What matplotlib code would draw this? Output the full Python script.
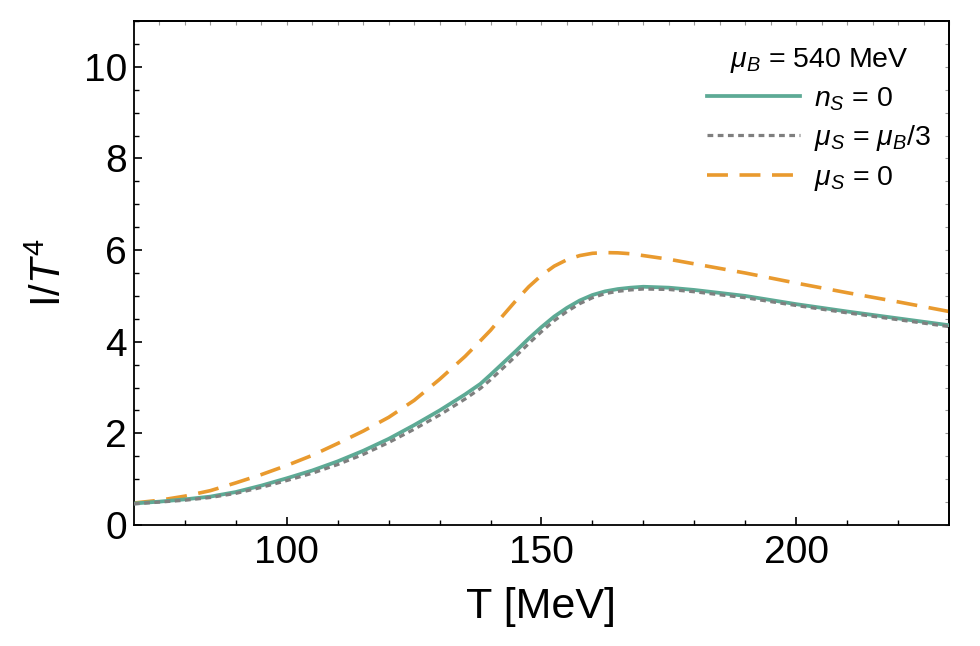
import numpy as np
import matplotlib
matplotlib.use("Agg")
import matplotlib.pyplot as plt

plt.rcParams['font.family'] = ['Liberation Sans', 'DejaVu Sans']
plt.rcParams['mathtext.fontset'] = 'custom'
plt.rcParams['mathtext.rm'] = 'Liberation Sans'
plt.rcParams['mathtext.it'] = 'Liberation Sans:italic'

# Data
T_vals = [70, 75, 80, 85, 90, 95, 100, 105, 110, 115, 120, 125, 130, 135, 138,
          140, 142.5, 145, 147.5, 150, 152.5, 155, 157.5, 160, 162.5, 165, 167.5,
          170, 175, 180, 190, 200, 210, 220, 230]
nS0 = [0.47, 0.51, 0.56, 0.62, 0.72, 0.86, 1.02, 1.19, 1.39, 1.62, 1.88, 2.18,
       2.50, 2.85, 3.08, 3.28, 3.54, 3.80, 4.07, 4.32, 4.55, 4.74, 4.90, 5.02,
       5.10, 5.15, 5.18, 5.20, 5.18, 5.13, 5.00, 4.82, 4.66, 4.51, 4.36]
muS_muB3 = [0.46, 0.50, 0.54, 0.60, 0.69, 0.82, 0.97, 1.13, 1.32, 1.54, 1.80,
            2.09, 2.40, 2.75, 2.98, 3.17, 3.43, 3.69, 3.96, 4.22, 4.46, 4.66,
            4.83, 4.96, 5.05, 5.10, 5.13, 5.15, 5.14, 5.09, 4.96, 4.79, 4.63,
            4.48, 4.33]
muS0 = [0.48, 0.54, 0.63, 0.75, 0.92, 1.10, 1.30, 1.52, 1.78, 2.05, 2.35, 2.72,
        3.18, 3.68, 4.02, 4.25, 4.58, 4.90, 5.20, 5.45, 5.65, 5.79, 5.88, 5.93,
        5.945, 5.94, 5.92, 5.88, 5.80, 5.70, 5.50, 5.28, 5.07, 4.87, 4.66]

labels = [r'$n_S$ = 0', r'$\mu_S$ = $\mu_B$/3', r'$\mu_S$ = 0']
legend_title = r'$\mu_B$ = 540 MeV'
xlabel = 'T [MeV]'
ylabel = r'I/$T^4$'

green = '#5DAA95'
gray = '#7F7F7F'
orange = '#E99A2E'

fig = plt.figure(figsize=(9.8, 6.46), dpi=100)
ax = fig.add_axes([0.1367, 0.1873, 0.8317, 0.7802])

ax.plot(T_vals, nS0, color=green, lw=2.7, label=labels[0], zorder=3)
ax.plot(T_vals, muS_muB3, color=gray, lw=2.3, dashes=(1.8, 1.4), label=labels[1], zorder=4)
ax.plot(T_vals, muS0, color=orange, lw=2.6, dashes=(5.8, 3.2), label=labels[2], zorder=2)

ax.set_xlim(70, 230)
ax.set_ylim(0, 11)

ax.set_xticks([100, 150, 200])
ax.set_xticks(np.arange(80, 230, 10), minor=True)
ax.set_yticks([0, 2, 4, 6, 8, 10])
ax.set_yticks(np.arange(0, 11.01, 0.5), minor=True)

ax.tick_params(axis='both', which='major', direction='in', length=6, width=1.2,
               labelsize=28, colors='black', top=False, right=False)
ax.tick_params(axis='both', which='minor', direction='in', length=3.5, width=1.0,
               top=False, right=False)
ax.tick_params(axis='x', which='major', pad=7)
ax.tick_params(axis='y', which='major', pad=5)

for s in ax.spines.values():
    s.set_linewidth(1.3)

# top & right light ticks
secx = ax.secondary_xaxis('top')
secx.set_xticks(np.arange(70, 231, 5))
secx.tick_params(direction='in', length=3, width=0.8, color='#999999', labeltop=False)
secx.spines['top'].set_linewidth(1.3)
secy = ax.secondary_yaxis('right')
secy.set_yticks(np.arange(0, 11.01, 0.5))
secy.tick_params(direction='in', length=3, width=0.8, color='#999999', labelright=False)
secy.spines['right'].set_linewidth(1.3)

ax.set_xlabel(xlabel, fontsize=31, labelpad=12)
ax.set_ylabel(ylabel, fontsize=30, labelpad=10)

leg = ax.legend(loc='upper right', bbox_to_anchor=(0.978, 0.951), frameon=False,
                title=legend_title, fontsize=20.5, title_fontsize=20.5,
                handlelength=3.25, handletextpad=0.5, labelspacing=0.37,
                borderaxespad=0.0, borderpad=0.0)

fig.savefig('out.png', dpi=100)
